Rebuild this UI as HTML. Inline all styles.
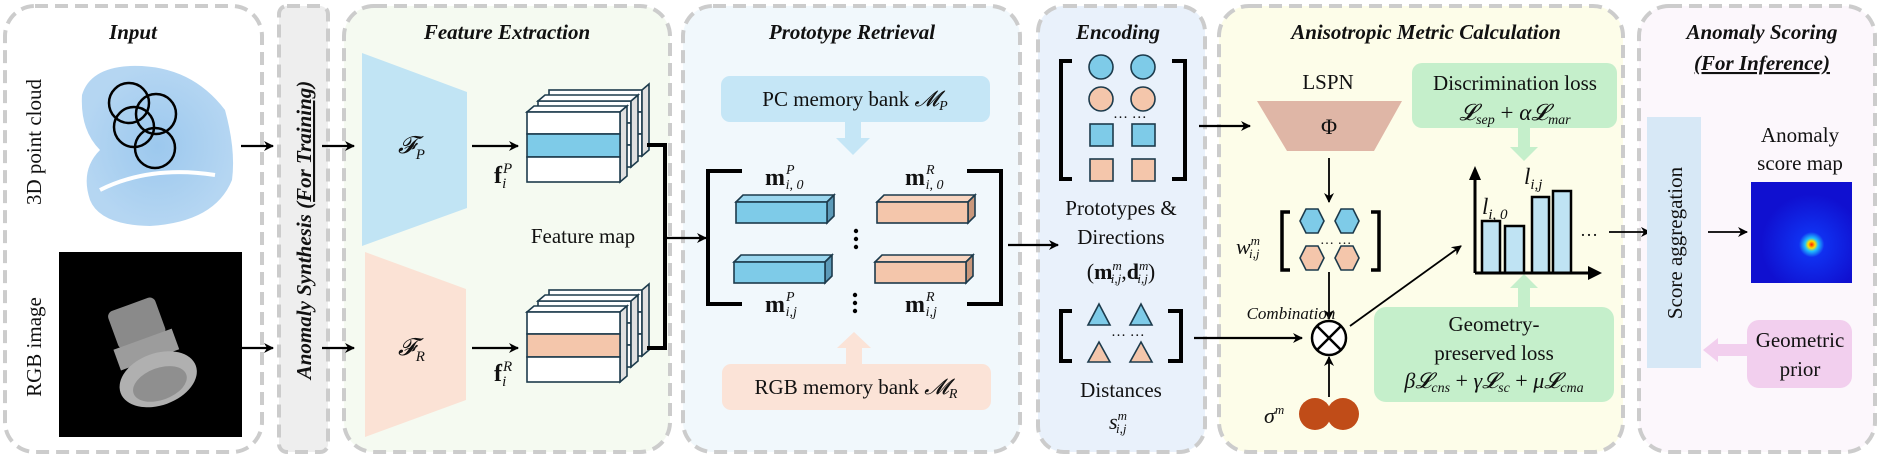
<!DOCTYPE html>
<html><head><meta charset="utf-8"><style>
html,body{margin:0;padding:0;background:#fff}
svg{display:block}
text{font-family:"Liberation Serif",serif;fill:#111}
.t{font-weight:bold;font-style:italic;font-size:21px}
.b{font-size:21px}
.i{font-style:italic}
</style></head><body>
<svg width="1883" height="460" viewBox="0 0 1883 460" xmlns="http://www.w3.org/2000/svg">
<defs>
<marker id="ah" markerWidth="10" markerHeight="10" refX="9" refY="5" orient="auto" markerUnits="userSpaceOnUse"><path d="M0,0 L10,5 L0,10 L3,5 z" fill="#000"/></marker>
<radialGradient id="hm" cx="0.6" cy="0.62" r="0.5"><stop offset="0" stop-color="#ff2000"/><stop offset="0.07" stop-color="#ffe000"/><stop offset="0.13" stop-color="#20c0ff"/><stop offset="0.25" stop-color="#1030f0"/><stop offset="1" stop-color="#1010d0"/></radialGradient>
<radialGradient id="pc" cx="0.5" cy="0.5" r="0.5"><stop offset="0" stop-color="#9cc8ee"/><stop offset="1" stop-color="#b5d6f2"/></radialGradient>
</defs>
<g fill="none" stroke="#cccccc" stroke-width="4" stroke-dasharray="13 7">
<rect x="5" y="6" width="257" height="446" rx="30" fill="#fff"/>
<rect x="279" y="6" width="49" height="446" rx="8" fill="#eeeeee"/>
<rect x="344" y="6" width="326" height="446" rx="30" fill="#f5faf1"/>
<rect x="683" y="6" width="337" height="446" rx="30" fill="#f1f8fc"/>
<rect x="1038" y="6" width="167" height="446" rx="26" fill="#e9f1fb"/>
<rect x="1219" y="6" width="404" height="446" rx="30" fill="#fdfde9"/>
<rect x="1639" y="6" width="236" height="446" rx="30" fill="#fcf7fc"/>
</g>
<!-- Titles -->
<text class="t" x="133" y="39" text-anchor="middle">Input</text>
<text class="t" x="507" y="39" text-anchor="middle">Feature Extraction</text>
<text class="t" x="852" y="39" text-anchor="middle">Prototype Retrieval</text>
<text class="t" x="1118" y="39" text-anchor="middle">Encoding</text>
<text class="t" x="1426" y="39" text-anchor="middle">Anisotropic Metric Calculation</text>
<text class="t" x="1762" y="39" text-anchor="middle">Anomaly Scoring</text>
<text class="t" x="1762" y="70" text-anchor="middle" text-decoration="underline">(For Inference)</text>
<!-- Input -->
<text class="b" font-size="22" transform="translate(41,142) rotate(-90)" text-anchor="middle">3D point cloud</text>
<text class="b" font-size="22" transform="translate(41,347) rotate(-90)" text-anchor="middle">RGB image</text>
<path d="M82,95 Q90,68 130,66 Q190,64 225,110 Q236,150 232,180 Q215,222 150,226 Q100,225 90,200 Q80,170 100,150 Q80,130 82,95 z" fill="url(#pc)"/>
<path d="M100,190 Q150,165 215,175" stroke="#fff" stroke-width="4" fill="none"/>
<g fill="none" stroke="#000" stroke-width="2.5">
<circle cx="129" cy="103" r="20"/><circle cx="156" cy="114" r="20"/><circle cx="134" cy="127" r="20"/><circle cx="155" cy="148" r="20"/>
</g>
<rect x="59" y="252" width="183" height="185" fill="#000"/>
<g transform="translate(150,345) rotate(-20)">
<rect x="-30" y="-45" width="50" height="40" rx="6" fill="#8a8a8a"/>
<rect x="-36" y="-8" width="62" height="22" fill="#9c9c9c"/>
<ellipse cx="-4" cy="35" rx="40" ry="26" fill="#b0b0b0"/>
<ellipse cx="-4" cy="40" rx="28" ry="16" fill="#8f8f8f"/>
</g>
<g stroke="#000" stroke-width="2.2" marker-end="url(#ah)">
<line x1="241" y1="146" x2="273" y2="146"/><line x1="322" y1="146" x2="354" y2="146"/>
<line x1="242" y1="348" x2="273" y2="348"/><line x1="322" y1="348" x2="354" y2="348"/>
<line x1="472" y1="146" x2="518" y2="146"/><line x1="472" y1="348" x2="518" y2="348"/>
</g>
<text class="t" font-size="21" transform="translate(311,230) rotate(-90)" text-anchor="middle">Anomaly Synthesis (<tspan text-decoration="underline">For Training</tspan>)</text>
<!-- F_P / F_R -->
<polygon points="362,53 467,92 467,208 362,246" fill="#c1e4f4"/>
<polygon points="365,252 466,289 466,400 365,437" fill="#fbe2d5"/>
<text x="398" y="153" font-size="24" class="i">𝓕<tspan font-size="15" dy="6">P</tspan></text>
<text x="398" y="355" font-size="24" class="i">𝓕<tspan font-size="15" dy="6">R</tspan></text>
<!-- feature stacks -->
<g stroke="#1d3b4c" stroke-width="1.6">
<g>
<g transform="translate(22,-22)"><rect x="527" y="112" width="93" height="22" fill="#fff"/><rect x="527" y="134" width="93" height="22" fill="#fff"/><rect x="527" y="156" width="93" height="22" fill="#fff"/><polygon points="620,112 627,106 627,172 620,178" fill="#e0e0e0"/></g>
<g transform="translate(11,-11)"><rect x="527" y="112" width="93" height="22" fill="#fff"/><rect x="527" y="134" width="93" height="22" fill="#fff"/><rect x="527" y="156" width="93" height="22" fill="#fff"/><polygon points="620,112 627,106 627,172 620,178" fill="#e0e0e0"/><polygon points="527,112 534,106 627,106 620,112" fill="#fff"/></g>
<polygon points="527,112 534,106 627,106 620,112" fill="#fff"/>
<polygon points="620,112 627,106 627,176 620,182" fill="#e0e0e0"/>
<rect x="527" y="112" width="93" height="22" fill="#fff"/>
<rect x="527" y="134" width="93" height="23" fill="#7ecbe8"/>
<rect x="527" y="157" width="93" height="25" fill="#fff"/>
</g>
<g transform="translate(0,200)">
<g transform="translate(22,-22)"><rect x="527" y="112" width="93" height="22" fill="#fff"/><rect x="527" y="134" width="93" height="22" fill="#fff"/><rect x="527" y="156" width="93" height="22" fill="#fff"/><polygon points="620,112 627,106 627,172 620,178" fill="#e0e0e0"/></g>
<g transform="translate(11,-11)"><rect x="527" y="112" width="93" height="22" fill="#fff"/><rect x="527" y="134" width="93" height="22" fill="#fff"/><rect x="527" y="156" width="93" height="22" fill="#fff"/><polygon points="620,112 627,106 627,172 620,178" fill="#e0e0e0"/><polygon points="527,112 534,106 627,106 620,112" fill="#fff"/></g>
<polygon points="527,112 534,106 627,106 620,112" fill="#fff"/>
<polygon points="620,112 627,106 627,176 620,182" fill="#e0e0e0"/>
<rect x="527" y="112" width="93" height="22" fill="#fff"/>
<rect x="527" y="134" width="93" height="23" fill="#f4c6ab"/>
<rect x="527" y="157" width="93" height="25" fill="#fff"/>
</g>
</g>
<text x="494" y="183" font-size="24" font-weight="bold">f<tspan font-size="15" font-style="italic" font-weight="normal" dx="1" dy="-10">P</tspan><tspan font-size="15" font-style="italic" font-weight="normal" dx="-10" dy="15">i</tspan></text>
<text x="494" y="381" font-size="24" font-weight="bold">f<tspan font-size="15" font-style="italic" font-weight="normal" dx="1" dy="-10">R</tspan><tspan font-size="15" font-style="italic" font-weight="normal" dx="-10" dy="15">i</tspan></text>
<text class="b" x="583" y="243" text-anchor="middle">Feature map</text>
<path d="M647,145 L665,145 L665,348 L647,348" fill="none" stroke="#000" stroke-width="4"/>
<line x1="665" y1="238" x2="706" y2="238" stroke="#000" stroke-width="2.2" marker-end="url(#ah)"/>
<!-- Prototype retrieval -->
<rect x="721" y="76" width="269" height="46" rx="9" fill="#c5e6f6"/>
<text class="b" font-size="20" x="855" y="106" text-anchor="middle">PC memory bank <tspan class="i" font-size="22">𝓜</tspan><tspan class="i" font-size="14" dy="4">P</tspan></text>
<polygon points="845,122 861,122 861,138 870,138 853,155 836,138 845,138" fill="#c5e6f6"/>
<rect x="722" y="364" width="269" height="46" rx="9" fill="#fbe3d7"/>
<text class="b" font-size="20" x="856" y="394" text-anchor="middle">RGB memory bank <tspan class="i" font-size="22">𝓜</tspan><tspan class="i" font-size="14" dy="4">R</tspan></text>
<polygon points="846,364 862,364 862,348 871,348 854,332 837,348 846,348" fill="#fbe3d7"/>
<path d="M742,171 L708,171 L708,304 L742,304" fill="none" stroke="#000" stroke-width="4"/>
<path d="M967,171 L1001,171 L1001,304 L967,304" fill="none" stroke="#000" stroke-width="4"/>
<g stroke="#1d3b4c" stroke-width="1.6">
<polygon points="736,202 743,195 834,195 827,202" fill="#9ad6ee"/><polygon points="827,202 834,195 834,216 827,223" fill="#5c9ab8"/><rect x="736" y="202" width="91" height="21" fill="#7ecbe8"/>
<polygon points="734,262 741,255 832,255 825,262" fill="#9ad6ee"/><polygon points="825,262 832,255 832,276 825,283" fill="#5c9ab8"/><rect x="734" y="262" width="91" height="21" fill="#7ecbe8"/>
<polygon points="877,202 884,195 975,195 968,202" fill="#f8d5c0"/><polygon points="968,202 975,195 975,216 968,223" fill="#c9977b"/><rect x="877" y="202" width="91" height="21" fill="#f4c6ab"/>
<polygon points="875,262 882,255 973,255 966,262" fill="#f8d5c0"/><polygon points="966,262 973,255 973,276 966,283" fill="#c9977b"/><rect x="875" y="262" width="91" height="21" fill="#f4c6ab"/>
</g>
<g fill="#000"><circle cx="856" cy="231" r="2.2"/><circle cx="856" cy="239" r="2.2"/><circle cx="856" cy="247" r="2.2"/><circle cx="855" cy="295" r="2.2"/><circle cx="855" cy="303" r="2.2"/><circle cx="855" cy="311" r="2.2"/></g>
<text x="765" y="185" font-size="24" font-weight="bold">m<tspan font-size="14" font-style="italic" font-weight="normal" dx="1" dy="-11">P</tspan><tspan font-size="14" font-style="italic" font-weight="normal" dx="-9" dy="15">i, 0</tspan></text>
<text x="905" y="185" font-size="24" font-weight="bold">m<tspan font-size="14" font-style="italic" font-weight="normal" dx="1" dy="-11">R</tspan><tspan font-size="14" font-style="italic" font-weight="normal" dx="-9" dy="15">i, 0</tspan></text>
<text x="765" y="312" font-size="24" font-weight="bold">m<tspan font-size="14" font-style="italic" font-weight="normal" dx="1" dy="-11">P</tspan><tspan font-size="14" font-style="italic" font-weight="normal" dx="-9" dy="15">i,j</tspan></text>
<text x="905" y="312" font-size="24" font-weight="bold">m<tspan font-size="14" font-style="italic" font-weight="normal" dx="1" dy="-11">R</tspan><tspan font-size="14" font-style="italic" font-weight="normal" dx="-9" dy="15">i,j</tspan></text>
<line x1="1008" y1="245" x2="1058" y2="245" stroke="#000" stroke-width="2.2" marker-end="url(#ah)"/>
<!-- Encoding -->
<path d="M1072,61 L1061,61 L1061,179 L1072,179 M1172,61 L1185,61 L1185,179 L1172,179" fill="none" stroke="#000" stroke-width="4"/>
<g stroke="#1d3b4c" stroke-width="1.6">
<ellipse cx="1101" cy="67" rx="12" ry="12" fill="#7ecbe8"/><ellipse cx="1143" cy="67" rx="12" ry="12" fill="#7ecbe8"/>
<ellipse cx="1101" cy="99" rx="12" ry="12" fill="#f4c6ab"/><ellipse cx="1143" cy="99" rx="12" ry="12" fill="#f4c6ab"/>
<rect x="1090" y="124" width="23" height="22" fill="#7ecbe8"/><rect x="1132" y="124" width="23" height="22" fill="#7ecbe8"/>
<rect x="1090" y="159" width="23" height="22" fill="#f4c6ab"/><rect x="1132" y="159" width="23" height="22" fill="#f4c6ab"/>
</g>
<text x="1113" y="118" font-size="15">… …</text>
<line x1="1199" y1="126" x2="1250" y2="126" stroke="#000" stroke-width="2.2" marker-end="url(#ah)"/>
<text class="b" x="1121" y="215" text-anchor="middle">Prototypes &amp;</text>
<text class="b" x="1121" y="244" text-anchor="middle">Directions</text>
<text x="1121" y="279" font-size="22" text-anchor="middle">(<tspan font-weight="bold">m</tspan><tspan font-size="13" class="i" dy="-9">m</tspan><tspan font-size="13" class="i" dx="-11" dy="13">i,j</tspan><tspan dy="-4">,</tspan><tspan font-weight="bold">d</tspan><tspan font-size="13" class="i" dy="-9">m</tspan><tspan font-size="13" class="i" dx="-11" dy="13">i,j</tspan><tspan dy="-4">)</tspan></text>
<path d="M1072,311 L1061,311 L1061,361 L1072,361 M1168,311 L1181,311 L1181,361 L1168,361" fill="none" stroke="#000" stroke-width="4"/>
<g stroke="#1d3b4c" stroke-width="1.6">
<polygon points="1099,304 1110,325 1088,325" fill="#7ecbe8"/><polygon points="1141,304 1152,325 1130,325" fill="#7ecbe8"/>
<polygon points="1099,342 1110,362 1088,362" fill="#f4c6ab"/><polygon points="1141,342 1152,362 1130,362" fill="#f4c6ab"/>
</g>
<text x="1111" y="336" font-size="15">… …</text>
<text class="b" x="1121" y="397" text-anchor="middle">Distances</text>
<text x="1118" y="429" font-size="22" class="i" text-anchor="middle">s<tspan font-size="13" dy="-9">m</tspan><tspan font-size="13" dx="-11" dy="13">i,j</tspan></text>
<line x1="1194" y1="338" x2="1302" y2="338" stroke="#000" stroke-width="2.2" marker-end="url(#ah)"/>
<!-- Anisotropic -->
<text class="b" x="1328" y="89" text-anchor="middle">LSPN</text>
<polygon points="1257,101 1402,101 1374,151 1287,151" fill="#dfb6a6"/>
<text x="1329" y="134" font-size="22" text-anchor="middle">Φ</text>
<g stroke="#000" stroke-width="1.8" marker-end="url(#ah)">
<line x1="1329" y1="158" x2="1329" y2="202"/><line x1="1329" y1="272" x2="1329" y2="319"/><line x1="1329" y1="397" x2="1329" y2="357"/>
<line x1="1350" y1="326" x2="1461" y2="246"/>
<line x1="1609" y1="232" x2="1650" y2="232"/><line x1="1708" y1="232" x2="1747" y2="232"/>
</g>
<path d="M1290,212 L1282,212 L1282,270 L1290,270 M1371,212 L1379,212 L1379,270 L1371,270" fill="none" stroke="#000" stroke-width="3.5"/>
<g stroke="#1d3b4c" stroke-width="1.6">
<polygon points="1300,221 1306,209 1318,209 1324,221 1318,233 1306,233" fill="#7ecbe8"/>
<polygon points="1335,221 1341,209 1353,209 1359,221 1353,233 1341,233" fill="#7ecbe8"/>
<polygon points="1300,258 1306,246 1318,246 1324,258 1318,270 1306,270" fill="#f4c6ab"/>
<polygon points="1335,258 1341,246 1353,246 1359,258 1353,270 1341,270" fill="#f4c6ab"/>
</g>
<text x="1320" y="244" font-size="14">… …</text>
<text x="1248" y="254" font-size="22" class="i" text-anchor="middle">w<tspan font-size="13" dy="-9">m</tspan><tspan font-size="13" dx="-11" dy="13">i,j</tspan></text>
<text x="1291" y="319" font-size="17" class="i" text-anchor="middle">Combination</text>
<circle cx="1329" cy="338" r="17" fill="#fff" stroke="#000" stroke-width="2.5"/>
<path d="M1317,326 L1341,350 M1341,326 L1317,350" stroke="#000" stroke-width="2.5"/>
<circle cx="1315" cy="414" r="16" fill="#c04c18"/><circle cx="1343" cy="414" r="16" fill="#c04c18"/>
<text x="1264" y="423" font-size="22" class="i">σ<tspan font-size="13" dy="-9">m</tspan></text>
<rect x="1412" y="63" width="205" height="65" rx="10" fill="#c5efcb"/>
<text class="b" x="1515" y="90" text-anchor="middle">Discrimination loss</text>
<text x="1515" y="120" font-size="23" class="i" text-anchor="middle">𝓛<tspan font-size="14" dy="4">sep</tspan><tspan dy="-4" font-style="normal"> + </tspan>α𝓛<tspan font-size="14" dy="4">mar</tspan></text>
<polygon points="1518,128 1530,128 1530,147 1538,147 1524,161 1510,147 1518,147" fill="#c5efcb"/>
<rect x="1374" y="307" width="240" height="95" rx="12" fill="#c5efcb"/>
<polygon points="1518,307 1530,307 1530,288 1538,288 1524,274 1510,288 1518,288" fill="#c5efcb"/>
<text class="b" x="1494" y="331" text-anchor="middle">Geometry-</text>
<text class="b" x="1494" y="360" text-anchor="middle">preserved loss</text>
<text x="1494" y="388" font-size="22" class="i" text-anchor="middle">β𝓛<tspan font-size="14" dy="4">cns</tspan><tspan dy="-4" font-style="normal"> + </tspan>γ𝓛<tspan font-size="14" dy="4">sc</tspan><tspan dy="-4" font-style="normal"> + </tspan>μ𝓛<tspan font-size="14" dy="4">cma</tspan></text>
<!-- bar chart -->
<g stroke="#000" stroke-width="2.5" fill="#bfe3f3">
<rect x="1482" y="221" width="18" height="52"/><rect x="1505" y="226" width="19" height="47"/><rect x="1532" y="197" width="17" height="76"/><rect x="1553" y="191" width="18" height="82"/>
</g>
<path d="M1475,273 L1475,178 M1475,273 L1590,273" stroke="#000" stroke-width="3" fill="none"/>
<polygon points="1469,180 1475,166 1481,180" fill="#000"/>
<polygon points="1588,266 1602,273 1588,280" fill="#000"/>
<text x="1482" y="214" font-size="23" class="i">l<tspan font-size="15" dy="5">i, 0</tspan></text>
<text x="1524" y="184" font-size="23" class="i">l<tspan font-size="15" dy="5">i,j</tspan></text>
<text x="1580" y="236" font-size="18">…</text>
<!-- Scoring -->
<rect x="1647" y="117" width="54" height="251" fill="#d7e8f6"/>
<text class="b" font-size="22" transform="translate(1682,243) rotate(-90)" text-anchor="middle">Score aggregation</text>
<text class="b" x="1800" y="142" text-anchor="middle">Anomaly</text>
<text class="b" x="1800" y="170" text-anchor="middle">score map</text>
<rect x="1751" y="182" width="101" height="101" fill="url(#hm)"/>
<rect x="1747" y="320" width="105" height="68" rx="12" fill="#f2cfee"/>
<text class="b" x="1800" y="347" text-anchor="middle">Geometric</text>
<text class="b" x="1800" y="376" text-anchor="middle">prior</text>
<polygon points="1747,344 1718,344 1718,338 1703,350 1718,362 1718,356 1747,356" fill="#f2cfee"/>
</svg>
</body></html>
